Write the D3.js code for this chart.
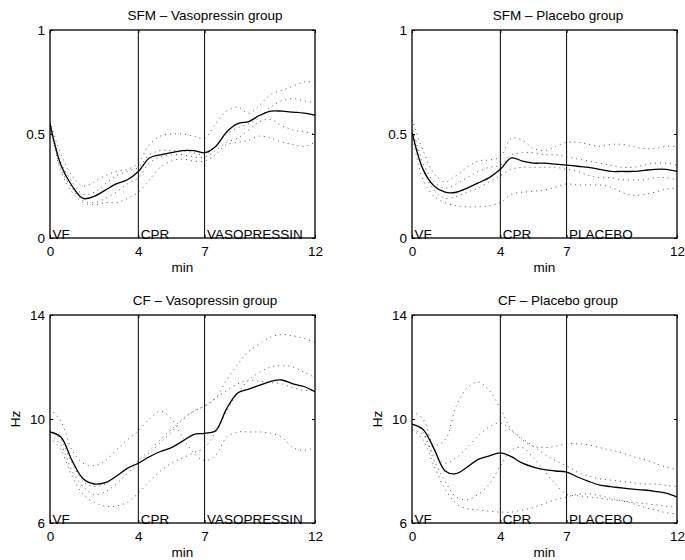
<!DOCTYPE html>
<html>
<head>
<meta charset="utf-8">
<script src="https://cdn.jsdelivr.net/npm/d3@7/dist/d3.min.js"></script>
<style>
body { margin: 0; background: #fff; }
text { font-family: "Liberation Sans", Arial, sans-serif; font-size: 13.5px; fill: #000; }
</style>
</head>
<body>
<script>
// time axis (min) and tick labels
const minutes = [0, 0.5, 1, 1.5, 2, 2.5, 3, 3.5, 4, 4.5, 5, 5.5, 6, 6.5, 7, 7.5, 8, 8.5, 9, 9.5, 10, 10.5, 11, 11.5, 12]
const phaseTicks = [0, 4, 7, 12]
const sfmTicks = [0, 0.5, 1]
const cfTicks = [6, 10, 14]

// SFM - vasopressin
const sfmVasoMean = [.55, .35, .25, .19, .20, .23, .26, .28, .32, .385, .40, .41, .42, .42, .41, .44, .51, .55, .56, .59, .61, .61, .605, .60, .59]
const sfmVasoDogs = [
    [.56, .40, .30, .25, .27, .30, .32, .33, .36, .45, .49, .50, .50, .49, .48, .55, .61, .63, .60, .64, .69, .71, .73, .75, .75],
    [.55, .36, .27, .21, .22, .26, .30, .32, .34, .40, .42, .42, .42, .41, .40, .44, .50, .53, .55, .58, .63, .66, .67, .66, .65],
    [.55, .33, .24, .18, .17, .19, .22, .26, .29, .36, .39, .40, .40, .39, .39, .42, .46, .48, .52, .56, .57, .54, .52, .51, .50],
    [.54, .32, .22, .17, .16, .17, .17, .19, .22, .28, .34, .37, .38, .37, .37, .40, .45, .46, .47, .49, .48, .46, .45, .44, .46]
]

// SFM - placebo
const sfmPlacMean = [.51, .33, .25, .22, .22, .24, .265, .29, .33, .385, .37, .36, .36, .355, .35, .345, .34, .33, .32, .32, .32, .325, .33, .33, .32]
const sfmPlacDogs = [
    [.57, .42, .31, .27, .30, .34, .37, .375, .39, .48, .47, .43, .42, .44, .46, .46, .45, .44, .45, .45, .44, .43, .43, .44, .44],
    [.54, .36, .27, .24, .26, .29, .32, .34, .35, .40, .41, .41, .40, .40, .39, .38, .37, .36, .35, .34, .34, .35, .36, .36, .35],
    [.52, .33, .23, .19, .20, .22, .24, .27, .30, .33, .34, .34, .34, .34, .33, .32, .30, .29, .29, .28, .28, .28, .29, .29, .28],
    [.50, .28, .20, .17, .155, .15, .15, .155, .17, .21, .22, .225, .23, .245, .26, .255, .255, .255, .245, .22, .205, .21, .22, .235, .24]
]

// CF - vasopressin (Hz)
const cfVasoMean = [9.5, 9.3, 8.4, 7.7, 7.5, 7.55, 7.8, 8.1, 8.3, 8.55, 8.75, 8.9, 9.15, 9.4, 9.45, 9.55, 10.4, 11.0, 11.15, 11.3, 11.45, 11.5, 11.35, 11.25, 11.05]
const cfVasoDogs = [
    [9.6, 9.2, 8.3, 7.6, 7.4, 7.5, 7.8, 8.1, 8.4, 8.8, 9.2, 9.6, 10.0, 10.3, 10.5, 10.8, 11.5, 12.1, 12.6, 12.9, 13.15, 13.25, 13.2, 13.1, 12.95],
    [9.3, 8.8, 7.8, 7.1, 6.8, 6.65, 6.65, 6.8, 7.15, 7.6, 8.0, 8.3, 8.5, 8.7, 8.9, 9.5, 10.3, 11.0, 11.5, 11.8, 12.0, 12.05, 12.0, 11.8, 11.6],
    [9.4, 9.0, 8.0, 7.4, 7.1, 7.2, 7.5, 7.9, 8.3, 8.7, 9.1, 9.5, 9.95, 10.3, 10.5, 10.8, 11.1, 11.35, 11.5, 11.45, 11.4, 11.35, 11.2, 11.1, 11.1],
    [10.4, 9.9, 8.8, 8.3, 8.2, 8.4, 8.8, 9.2, 9.55, 10.0, 10.3, 10.0, 9.3, 8.7, 8.4, 8.6, 9.3, 9.5, 9.5, 9.5, 9.45, 9.3, 8.9, 8.8, 8.9]
]

// CF - placebo (Hz)
const cfPlacMean = [9.8, 9.6, 8.85, 8.0, 7.9, 8.15, 8.45, 8.58, 8.7, 8.55, 8.3, 8.15, 8.05, 8.0, 7.96, 7.77, 7.6, 7.46, 7.4, 7.35, 7.3, 7.27, 7.22, 7.15, 7.0]
const cfPlacDogs = [
    [10.3, 10.0, 9.0, 9.2, 10.5, 11.2, 11.42, 11.1, 10.4, 9.6, 9.2, 8.95, 8.9, 8.95, 9.05, 9.05, 9.0, 8.9, 8.8, 8.7, 8.55, 8.45, 8.3, 8.15, 8.05],
    [9.6, 9.4, 8.6, 8.3, 8.5, 8.9, 9.35, 9.7, 9.85, 9.55, 9.25, 8.95, 8.65, 8.4, 8.2, 7.95, 7.8, 7.7, 7.65, 7.6, 7.55, 7.5, 7.5, 7.45, 7.4],
    [9.9, 9.5, 8.4, 7.6, 7.0, 6.9, 7.1, 7.5, 8.2, 8.8, 8.9, 8.5, 8.0, 7.5, 7.1, 7.05, 7.0, 6.95, 6.9, 6.85, 6.8, 6.75, 6.7, 6.65, 6.6],
    [9.6, 9.2, 8.2, 7.3, 6.75, 6.55, 6.5, 6.45, 6.42, 6.42, 6.5, 6.6, 6.75, 6.9, 7.0, 7.1, 7.12, 7.05, 6.95, 6.85, 6.75, 6.6, 6.5, 6.4, 6.35]
]

const panels = [
    { title: 'SFM \u2013 Vasopressin group', mean: sfmVasoMean, dogs: sfmVasoDogs, dom: [0, 1], ticks: sfmTicks, ylab: '', drug: 'VASOPRESSIN', left: 50, top: 30, titleX: 155 },
    { title: 'SFM \u2013 Placebo group', mean: sfmPlacMean, dogs: sfmPlacDogs, dom: [0, 1], ticks: sfmTicks, ylab: '', drug: 'PLACEBO', left: 412, top: 30, titleX: 146 },
    { title: 'CF \u2013 Vasopressin group', mean: cfVasoMean, dogs: cfVasoDogs, dom: [6, 14], ticks: cfTicks, ylab: 'Hz', drug: 'VASOPRESSIN', left: 50, top: 315, titleX: 155 },
    { title: 'CF \u2013 Placebo group', mean: cfPlacMean, dogs: cfPlacDogs, dom: [6, 14], ticks: cfTicks, ylab: 'Hz', drug: 'PLACEBO', left: 412, top: 315, titleX: 146 }
]

const w = 265
const h = 208

const svg = d3.select('body')
    .append('svg')
    .attr('width', 685)
    .attr('height', 560);

const x = d3.scaleLinear().domain([0, 12]).range([0, w]);

panels.forEach((p, i) => {
    const y = d3.scaleLinear().domain(p.dom).range([h, 0]);
    const g = svg.append('g').attr('transform', `translate(${p.left},${p.top})`);

    g.append('clipPath').attr('id', 'clip' + i)
        .append('rect').attr('width', w).attr('height', h);

    const line = d3.line()
        .x((d, k) => x(minutes[k]))
        .y(d => y(d))
        .curve(d3.curveCatmullRom.alpha(0.5));

    const plot = g.append('g').attr('clip-path', `url(#clip${i})`);

    // individual animals, dotted
    plot.selectAll('path.dog')
        .data(p.dogs)
        .enter()
        .append('path')
        .attr('class', 'dog')
        .attr('d', line)
        .attr('fill', 'none')
        .attr('stroke', '#555')
        .attr('stroke-width', 1)
        .attr('stroke-dasharray', '1 4');

    // phase separators
    plot.selectAll('line.phase')
        .data([4, 7])
        .enter()
        .append('line')
        .attr('x1', d => x(d)).attr('x2', d => x(d))
        .attr('y1', 0).attr('y2', h)
        .attr('stroke', '#000')
        .attr('stroke-width', 1);

    // group mean
    plot.append('path')
        .attr('d', line(p.mean))
        .attr('fill', 'none')
        .attr('stroke', '#000')
        .attr('stroke-width', 1.3);

    // phase names
    g.selectAll('text.phase')
        .data([['VF', 0], ['CPR', 4], [p.drug, 7]])
        .enter()
        .append('text')
        .attr('x', d => x(d[1]) + 2.5)
        .attr('y', h + 1)
        .text(d => d[0]);

    // axes, matlab style ticks pointing in
    const axL = g.append('g').call(d3.axisLeft(y).tickValues(p.ticks).tickSize(-3).tickPadding(5).tickFormat(d => d));
    const axR = g.append('g').attr('transform', `translate(${w},0)`)
        .call(d3.axisRight(y).tickValues(p.ticks).tickSize(-3).tickFormat(''));
    const axB = g.append('g').attr('transform', `translate(0,${h})`)
        .call(d3.axisBottom(x).tickValues(phaseTicks).tickSize(-3).tickPadding(8));
    const axT = g.append('g')
        .call(d3.axisTop(x).tickValues(phaseTicks).tickSize(-3).tickFormat(''));

    [axL, axR, axB, axT].forEach(a => {
        a.attr('font-size', null).attr('font-family', null);
        a.select('.domain').remove();
        a.selectAll('line').attr('stroke', '#000');
    });

    g.append('rect')
        .attr('width', w).attr('height', h)
        .attr('fill', 'none')
        .attr('stroke', '#000')
        .attr('stroke-width', 1.3);

    g.append('text')
        .attr('x', p.titleX)
        .attr('y', -10)
        .attr('text-anchor', 'middle')
        .text(p.title);

    g.append('text')
        .attr('x', w / 2)
        .attr('y', h + 34)
        .attr('text-anchor', 'middle')
        .text('min');

    if (p.ylab) {
        g.append('text')
            .attr('transform', `translate(-30,${h / 2}) rotate(-90)`)
            .attr('text-anchor', 'middle')
            .text(p.ylab);
    }
});
</script>
</body>
</html>
